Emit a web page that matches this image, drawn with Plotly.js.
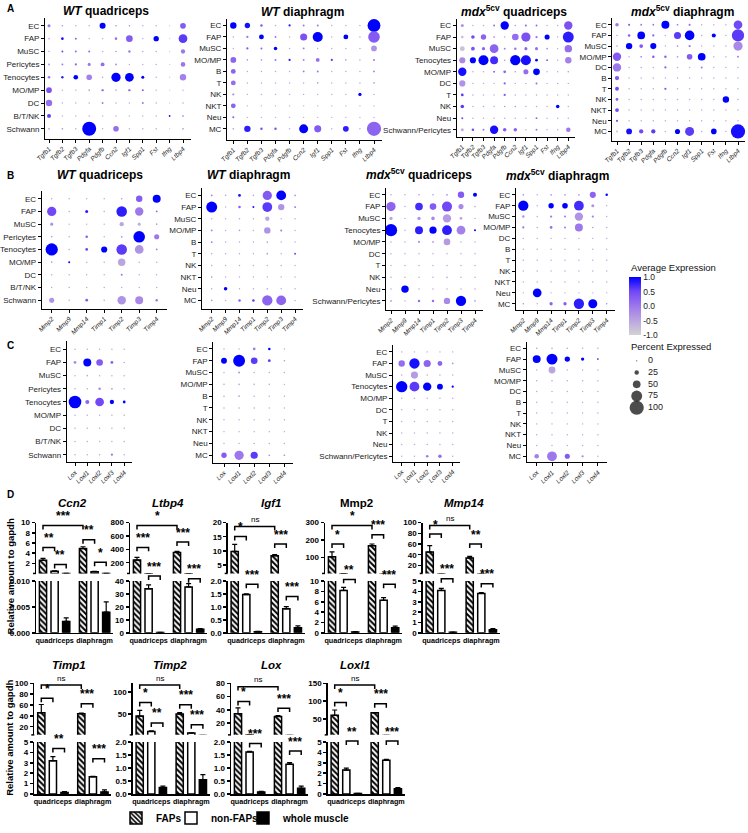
<!DOCTYPE html>
<html><head><meta charset="utf-8">
<script src="https://cdn.plot.ly/plotly-3.0.1.min.js"></script>
<style>html,body{margin:0;padding:0;background:#fff}#chart{width:748px;height:833px}</style>
</head><body><div id="chart"></div>
<script>
const W=748,H=833;
// ---------------- DATA: dot plots ----------------
const genesA=['Tgfb1','Tgfb2','Tgfb3','Pdgfa','Pdgfb','Ccn2','Igf1','Spp1','Fst','Ifng','Ltbp4'];
const genesB=['Mmp2','Mmp9','Mmp14','Timp1','Timp2','Timp3','Timp4'];
const genesC=['Lox','Loxl1','Loxl2','Loxl3','Loxl4'];
const rowsWTq=['EC','FAP','MuSC','Pericytes','Tenocytes','MO/MP','DC','B/T/NK','Schwann'];
const rowsWTd=['EC','FAP','MuSC','MO/MP','B','T','NK','NKT','Neu','MC'];
const rowsMq=['EC','FAP','MuSC','Tenocytes','MO/MP','DC','T','NK','Neu','Schwann/Pericytes'];
const rowsMd=['EC','FAP','MuSC','MO/MP','DC','B','T','NK','NKT','Neu','MC'];

const pctA1=[[14,3,2,2,37,3,2,2,2,1,35],[3,11,6,2,2,11,42,2,32,1,58],[2,6,5,5,2,3,9,2,2,1,24],[4,5,7,14,21,5,2,2,2,1,26],[11,9,26,34,3,62,58,14,3,1,40],[34,2,2,3,9,3,9,6,2,1,2],[40,2,2,2,5,2,2,6,2,1,2],[21,2,2,2,2,2,2,2,2,4,4],[4,4,2,98,2,34,2,2,2,1,4]];
const expA1=[[0,-0.3,-0.5,-0.5,1,-0.2,-0.2,-0.5,-0.5,-1,0.3],[-0.5,0.9,0.3,-0.5,-0.5,0,0.3,-0.5,1,-1,0.6],[-0.5,0.5,0.2,0.2,-0.5,-0.3,0,-0.5,-0.5,-1,0],[-0.2,0,0.2,0,0.1,-0.2,-0.5,-0.5,-0.5,-1,0],[0,0.8,1,-0.1,-0.4,1,1,1,-0.5,-1,-0.1],[0.4,-0.5,-0.5,-0.3,0,-0.5,0,0.3,-0.5,-1,-0.5],[0.1,-0.5,-0.5,-0.5,0,-0.5,-0.5,0,-0.5,-1,-0.5],[0.6,-0.5,-0.5,-0.5,-0.5,-0.5,-0.5,-0.5,-0.5,1,-0.3],[-0.3,-0.3,-0.5,1,-0.5,0.1,-0.5,-0.5,-0.5,-1,-0.3]];
const pctA2=[[40,32,10,2,8,6,6,2,2,2,90],[3,8,28,4,2,45,68,2,28,2,80],[2,8,6,18,2,5,2,2,2,2,35],[35,3,3,5,8,5,20,8,3,2,6],[28,2,2,2,2,5,6,2,2,2,4],[28,2,2,2,2,2,3,2,2,2,3],[6,2,2,2,2,2,2,2,2,16,2],[28,2,2,2,2,2,2,2,2,2,2],[6,2,2,2,2,2,2,2,2,2,2],[3,40,10,10,2,60,45,2,35,2,100]];
const expA2=[[1,0.9,0.3,-0.5,0.8,0,0,-0.5,-0.5,-0.5,1],[-0.5,0,1,0.3,-0.5,0.4,1,-0.5,1,-0.5,0.3],[-0.5,0.3,0.2,1,-0.5,0,-0.5,-0.5,-0.5,-0.5,-0.3],[0.2,-0.3,-0.3,0.2,0.8,0,0.1,0.6,-0.3,-0.5,0],[0.2,-0.5,-0.5,-0.5,-0.5,0,0,-0.5,-0.5,-0.5,0],[0.1,-0.5,-0.5,-0.5,-0.5,-0.5,-0.3,-0.5,-0.5,-0.5,-0.3],[0,-0.5,-0.5,-0.5,-0.5,-0.5,-0.5,-0.5,-0.5,1,-0.5],[0.2,-0.5,-0.5,-0.5,-0.5,-0.5,-0.5,-0.5,-0.5,-0.5,-0.5],[0.3,-0.5,-0.5,-0.5,-0.5,-0.5,-0.5,-0.5,-0.5,-0.5,-0.5],[-0.3,0.8,0.4,0.4,-0.5,1,0.3,-0.5,0.8,-0.5,0.2]];
const pctA3=[[14,2,2,5,55,3,6,5,2,2,55],[12,18,32,3,2,42,62,8,30,2,75],[28,20,16,58,5,10,14,14,3,2,48],[38,38,68,52,3,70,68,12,4,2,40],[55,2,2,6,12,3,30,42,2,2,3],[38,2,2,2,8,2,2,6,2,2,2],[12,2,2,2,8,2,2,2,2,2,2],[18,2,2,2,3,3,2,2,2,18,2],[6,2,2,2,2,2,2,5,2,2,2],[14,10,6,55,18,18,2,6,2,2,25]];
const expA3=[[-0.3,-0.5,-0.5,0.2,1,-0.3,0.2,0.2,-0.5,-0.5,0.4],[-0.8,0.5,0.2,0.2,-0.5,0.1,0.4,0.1,1,-0.5,0.8],[-0.8,0.4,0.2,0.2,0,0,0.2,0.1,0,-0.5,0.1],[-0.2,1,1,0.7,-0.3,1,0.9,1,0.5,-0.5,-0.1],[0.9,-0.5,-0.5,0.2,0.2,-0.3,0.1,1,-0.5,-0.5,-0.3],[-0.3,-0.5,-0.5,-0.5,0.2,-0.5,-0.5,0.1,-0.5,-0.5,-0.5],[0.6,-0.5,-0.5,-0.5,0.3,-0.5,-0.5,-0.5,-0.5,-0.5,-0.5],[0.6,-0.5,-0.5,-0.5,-0.3,-0.3,-0.5,-0.5,-0.5,1,-0.5],[0.5,-0.5,-0.5,-0.5,-0.5,-0.5,-0.5,0.2,-0.5,-0.5,-0.5],[-0.6,0.5,0,0.9,0.3,0.2,-0.5,0,-0.5,-0.5,0]];
const pctA4=[[18,8,5,5,52,4,8,2,2,2,58],[3,10,50,8,2,45,65,2,22,2,85],[3,40,20,38,2,4,8,2,2,2,62],[55,2,4,10,10,4,34,50,2,2,5],[55,2,2,2,8,2,2,6,2,2,2],[24,2,2,2,2,2,2,2,2,2,2],[20,2,2,2,8,2,2,2,2,2,2],[12,2,2,2,2,2,2,2,2,40,2],[20,2,2,2,2,2,2,2,2,2,2],[8,2,2,2,2,2,2,2,2,2,2],[6,35,24,24,2,30,60,2,34,2,100]];
const expA4=[[0,0.2,0,0,1,0,0,-0.5,-0.5,-0.5,0.5],[-0.5,0.3,1,0.2,-0.5,0.6,1,-0.5,1,-0.5,0.6],[-0.5,1,0.3,1,-0.5,-0.3,0,-0.5,-0.5,-0.5,-0.2],[0.3,-0.5,0,0.3,0.2,-0.3,0.3,1,-0.5,-0.5,0],[0,-0.5,-0.5,-0.5,0.2,-0.5,-0.5,0,-0.5,-0.5,-0.5],[0.3,-0.5,-0.5,-0.5,-0.5,-0.5,-0.5,-0.5,-0.5,-0.5,-0.5],[0.5,-0.5,-0.5,-0.5,0.3,-0.5,-0.5,-0.5,-0.5,-0.5,-0.5],[0.3,-0.5,-0.5,-0.5,-0.5,-0.5,-0.5,-0.5,-0.5,1,-0.5],[0.5,-0.5,-0.5,-0.5,-0.5,-0.5,-0.5,-0.5,-0.5,-0.5,-0.5],[0.5,-0.5,-0.5,-0.5,-0.5,-0.5,-0.5,-0.5,-0.5,-0.5,-0.5],[-0.8,0.9,0.5,0.6,-0.5,1,0.6,-0.5,1,-0.5,0.9]];

const pctB1=[[2,2,2,2,3,40,52],[62,2,14,3,72,55,4],[14,2,2,2,24,14,3],[3,2,10,2,5,80,30],[85,2,12,38,72,58,4],[3,6,2,2,48,2,2],[2,2,2,2,6,2,2],[2,2,2,2,2,2,2],[30,2,12,3,56,52,10]];
const expB1=[[-0.5,-0.5,-0.5,-0.5,-0.3,0.3,1],[0.5,-0.5,0.8,-0.5,0.8,0,0.2],[-0.3,-0.5,-0.5,-0.5,-0.5,-0.6,-0.3],[-0.3,-0.5,0.3,-0.5,-0.3,1,0],[1,-0.5,0.5,1,0.6,-0.3,0],[-0.3,1,-0.5,-0.5,-0.5,-0.5,-0.5],[-0.5,-0.5,-0.5,-0.5,0,-0.5,-0.5],[-0.5,-0.5,-0.5,-0.5,-0.5,-0.5,-0.5],[-0.3,-0.5,0.3,-0.5,-0.3,-0.2,0]];
const pctB2=[[4,3,12,3,62,66,4],[75,2,10,6,66,40,4],[3,2,3,2,24,2,2],[4,2,3,2,40,6,2],[5,2,2,2,4,2,2],[3,2,2,2,5,2,6],[2,2,2,2,2,2,2],[3,2,2,2,2,2,2],[2,18,2,2,4,2,2],[3,2,10,10,70,66,2]];
const expB2=[[0,-0.5,0.9,-0.5,0.3,1,-0.3],[1,-0.5,0.3,0.9,0.6,-0.3,0.3],[-0.5,-0.5,-0.5,-0.5,-0.5,-0.5,-0.5],[0,-0.5,-0.3,-0.5,-0.3,0,-0.5],[0,-0.5,-0.5,-0.5,-0.5,-0.5,-0.5],[-0.5,-0.5,-0.5,-0.5,-0.5,-0.5,0.5],[-0.5,-0.5,-0.5,-0.5,-0.5,-0.5,-0.5],[-0.3,-0.5,-0.5,-0.5,-0.5,-0.5,-0.5],[-0.5,1,-0.5,-0.5,-0.5,-0.5,-0.5],[-0.3,-0.5,0.3,0.6,0.2,0.2,-0.5]];
const pctB3=[[3,2,3,3,5,40,22],[62,2,50,42,68,30,3],[16,2,16,18,55,12,2],[85,2,52,46,66,58,6],[2,2,8,4,42,2,2],[2,2,2,2,2,2,2],[2,2,2,2,3,2,2],[2,2,2,2,4,2,2],[2,48,2,2,2,2,2],[4,2,10,10,40,70,3]];
const expB3=[[-0.5,-0.5,-0.3,-0.3,-0.3,0.3,1],[0.2,-0.5,0.7,0.3,0.5,-0.2,-0.5],[-0.5,-0.5,-0.3,-0.2,-0.4,-0.5,-0.5],[1,-0.5,0.8,1,0.8,-0.1,1],[-0.5,-0.5,-0.3,-0.3,-0.4,-0.5,-0.5],[-0.5,-0.5,-0.5,-0.5,-0.5,-0.5,-0.5],[-0.5,-0.5,-0.5,-0.5,-0.5,-0.5,-0.5],[-0.5,-0.5,-0.5,-0.5,-0.5,-0.5,-0.5],[-0.5,1,-0.5,-0.5,-0.5,-0.5,-0.5],[-0.3,-0.5,0.1,0.1,-0.2,1,-0.3]];
const pctB4=[[4,2,4,4,4,38,10],[70,2,32,34,66,14,2],[10,2,8,6,55,8,2],[8,2,12,6,52,3,2],[2,2,2,2,2,2,2],[2,2,2,2,2,2,2],[2,2,2,2,2,2,2],[2,2,2,2,2,2,2],[2,2,2,2,2,2,2],[2,58,2,2,2,2,2],[3,2,16,16,70,60,3]];
const expB4=[[-0.3,-0.5,-0.3,-0.3,-0.3,0.2,1],[1,-0.5,1,1,0.7,-0.3,-0.5],[-0.3,-0.5,0,0,-0.3,-0.1,-0.5],[0,-0.5,0.1,0,0,-0.3,-0.5],[-0.5,-0.5,-0.5,-0.5,-0.5,-0.5,-0.5],[-0.5,-0.5,-0.5,-0.5,-0.5,-0.5,-0.5],[-0.5,-0.5,-0.5,-0.5,-0.5,-0.5,-0.5],[-0.5,-0.5,-0.5,-0.5,-0.5,-0.5,-0.5],[-0.5,-0.5,-0.5,-0.5,-0.5,-0.5,-0.5],[-0.5,1,-0.5,-0.5,-0.5,-0.5,-0.5],[-0.3,-0.5,0.2,0.3,0.8,1,-0.3]];

const pctC1=[[2,2,2,2,2],[12,52,42,12,3],[2,3,2,2,2],[2,2,10,4,2],[88,22,58,24,12],[2,2,2,2,2],[2,2,2,2,2],[2,2,2,2,2],[2,2,2,8,2]];
const expC1=[[-0.5,-0.5,-0.5,-0.5,-0.5],[-0.2,1,0.3,0.3,-0.5],[-0.5,-0.5,-0.5,-0.5,-0.5],[-0.5,-0.5,-0.2,-0.3,-0.5],[1,0.2,0.5,1,1],[-0.5,-0.5,-0.5,-0.5,-0.5],[-0.5,-0.5,-0.5,-0.5,-0.5],[-0.5,-0.5,-0.5,-0.5,-0.5],[-0.5,-0.5,-0.5,0,-0.5]];
const pctC2=[[2,2,12,10,2],[36,82,42,12,3],[2,6,2,2,2],[3,4,3,3,2],[3,4,3,2,2],[2,3,2,2,2],[2,2,2,2,2],[2,2,2,2,2],[2,2,3,2,2],[32,62,46,4,4]];
const expC2=[[-0.5,-0.5,-0.1,1,-0.5],[1,1,0.6,0.6,-0.3],[-0.5,-0.3,-0.5,-0.5,-0.5],[-0.5,-0.5,-0.5,-0.5,-0.5],[-0.5,-0.5,-0.5,-0.5,-0.5],[-0.5,-0.5,-0.5,-0.5,-0.5],[-0.5,-0.5,-0.5,-0.5,-0.5],[-0.5,-0.5,-0.5,-0.5,-0.5],[-0.5,-0.5,-0.5,-0.5,-0.5],[0.3,0,0.6,-0.3,-0.3]];
const pctC3=[[2,2,2,2,2],[40,70,46,28,4],[3,46,2,2,2],[78,66,55,36,8],[2,2,2,2,2],[2,2,2,2,2],[2,2,2,2,2],[2,2,2,2,2],[2,2,2,2,2],[2,2,10,18,2]];
const expC3=[[-0.5,-0.5,-0.5,-0.5,-0.5],[0.1,0.9,0.2,0.2,-0.3],[-0.5,-0.4,-0.5,-0.5,-0.5],[1,0.6,1,1,1],[-0.5,-0.5,-0.5,-0.5,-0.5],[-0.5,-0.5,-0.5,-0.5,-0.5],[-0.5,-0.5,-0.5,-0.5,-0.5],[-0.5,-0.5,-0.5,-0.5,-0.5],[-0.5,-0.5,-0.5,-0.5,-0.5],[-0.5,-0.5,0,0.1,-0.5]];
const pctC4=[[3,3,3,2,2],[52,75,32,16,3],[2,44,2,2,2],[3,3,3,3,2],[2,2,2,2,2],[2,2,2,2,2],[2,2,2,2,2],[2,2,2,2,2],[2,2,2,2,2],[2,2,2,2,2],[26,66,30,8,2]];
const expC4=[[-0.5,-0.5,-0.5,-0.5,-0.5],[1,1,1,1,1],[-0.5,-0.5,-0.5,-0.5,-0.5],[-0.5,-0.5,-0.5,-0.5,-0.5],[-0.5,-0.5,-0.5,-0.5,-0.5],[-0.5,-0.5,-0.5,-0.5,-0.5],[-0.5,-0.5,-0.5,-0.5,-0.5],[-0.5,-0.5,-0.5,-0.5,-0.5],[-0.5,-0.5,-0.5,-0.5,-0.5],[-0.5,-0.5,-0.5,-0.5,-0.5],[-0.1,0,0.3,-0.2,-0.5]];
const legendPct=[0,25,50,75,100];
const exprTicks=[-1,-0.5,0,0.5,1];

// ---------------- DATA: qPCR bars ----------------
const barGenes=['Ccn2','Ltbp4','Igf1','Mmp2','Mmp14','Timp1','Timp2','Lox','Loxl1'];
const barItalic=[true,true,true,false,true,true,true,true,true];
const groups=['quadriceps','diaphragm'];
const seriesNames=['FAPs','non-FAPs','whole muscle'];
const fapMean=[[2.6,4.9],[240,355],[9.8,8.3],[105,168],[45,34],[46,44],[45,50],[34,30],[60,67]];
const fapErr=[[0.35,0.35],[40,15],[2.5,0.4],[28,10],[12,3],[15,1],[13,3],[9,1],[15,1]];
const nonMean=[[0.45,0.35],[34,35.5],[1.48,0.93],[8.2,6.3],[4.1,3.8],[3.2,1.65],[10,6],[1.62,1.15],[2.3,3.25]];
const nonErr=[[0.05,0.05],[3,2.5],[0.03,0.08],[0.6,0.5],[0.2,0.08],[0.4,0.05],[1,0.5],[0.02,0.06],[0.2,0.1]];
const wholeMean=[[0.0022,0.004],[0.3,2.8],[0.04,0.2],[0.15,1.0],[0.05,0.3],[0.15,0.2],[0.25,0.55],[0.08,0.22],[0.05,0.5]];
const wholeErr=[[0.0007,0.002],[0.1,0.5],[0.02,0.07],[0.1,0.3],[0.02,0.12],[0.08,0.2],[0.05,0.2],[0.02,0.08],[0.02,0.12]];
const upperRange=[[0,10],[40,800],[2,20],[10,300],[5,100],[5,100],[2,120],[2,80],[5,150]];
const upperTicks=[[2,4,6,8,10],[200,400,600,800],[5,10,15,20],[100,200,300],[20,40,60,80,100],[20,40,60,80,100],[50,100],[20,40,60,80],[50,100,150]];
const lowerRange=[[0,0.01],[0,40],[0,2],[0,10],[0,5],[0,5],[0,2],[0,2],[0,5]];
const lowerTicks=[[0,0.005,0.01],[0,10,20,30,40],[0,0.5,1,1.5,2],[0,2,4,6,8,10],[0,1,2,3,4,5],[0,1,2,3,4,5],[0,0.5,1,1.5,2],[0,0.5,1,1.5,2],[0,1,2,3,4,5]];
const lowerDec=[3,0,1,0,0,0,1,1,0];
// significance: pairs of bars (0-2 quadriceps FAPs/non/whole, 3-5 diaphragm) and labels
const sigPairs=[[0,3],[0,1],[1,2],[3,4],[4,5]];
const sigLabels=[['***','**','**','**','*'],['*','***','***','***','***'],['ns','*','***','***','***'],['*','*','**','***','***'],['ns','*','***','**','***'],['ns','*','**','***','***'],['ns','*','**','***','***'],['ns','*','***','***','***'],['ns','*','**','***','***']];

// ---------------- LAYOUT GEOMETRY (px) ----------------
const dotGeo=[
 {g:genesA,r:rowsWTq,p:pctA1,e:expA1,axL:45,c0:49,cs:13.4,axB:140,r0:26,rs:13.0},
 {g:genesA,r:rowsWTd,p:pctA2,e:expA2,axL:227,c0:233.3,cs:14.07,axB:141,r0:25.7,rs:11.6},
 {g:genesA,r:rowsMq,p:pctA3,e:expA3,axL:456.7,c0:462.3,cs:10.6,axB:138,r0:25.7,rs:11.7},
 {g:genesA,r:rowsMd,p:pctA4,e:expA4,axL:612.3,c0:617,cs:12.1,axB:142,r0:25,rs:10.77},
 {g:genesB,r:rowsWTq,p:pctB1,e:expB1,axL:41.7,c0:51.7,cs:17.5,axB:311.7,r0:200.7,rs:12.8},
 {g:genesB,r:rowsWTd,p:pctB2,e:expB2,axL:202,c0:211.7,cs:13.9,axB:311.7,r0:197.3,rs:11.78},
 {g:genesB,r:rowsMq,p:pctB3,e:expB3,axL:386,c0:391,cs:14,axB:313,r0:196.7,rs:11.9},
 {g:genesB,r:rowsMd,p:pctB4,e:expB4,axL:516,c0:523.3,cs:13.9,axB:313,r0:196.7,rs:11.0},
 {g:genesC,r:rowsWTq,p:pctC1,e:expC1,axL:66.7,c0:75,cs:12.3,axB:466.7,r0:352.7,rs:13.3},
 {g:genesC,r:rowsWTd,p:pctC2,e:expC2,axL:213.3,c0:224,cs:15.1,axB:467,r0:352.3,rs:11.93},
 {g:genesC,r:rowsMq,p:pctC3,e:expC3,axL:393,c0:401.7,cs:12.75,axB:466,r0:355.3,rs:11.7},
 {g:genesC,r:rowsMd,p:pctC4,e:expC4,axL:526.7,c0:536.7,cs:15.3,axB:466.7,r0:351.7,rs:10.9}
];
const CS=[[0,'#d3d3d3'],[0.25,'#bba5e0'],[0.5,'#9d77ec'],[0.75,'#7248f6'],[1,'#0000ff']];
const sizeOf=p=>1.2+0.13*p;

const FONT='Liberation Sans, Arial, sans-serif';
const layout={width:W,height:H,margin:{l:0,r:0,t:0,b:0},paper_bgcolor:'#fff',plot_bgcolor:'rgba(0,0,0,0)',
  font:{family:FONT,color:'#000',size:9},showlegend:true,barmode:'group',bargap:0.13,bargroupgap:0.38,
  annotations:[],shapes:[]};
const legendX=[116,171,243];
['legend','legend2','legend3'].forEach((k,i)=>{layout[k]={orientation:'h',x:legendX[i]/W,y:1-826/H,xanchor:'left',yanchor:'middle',
  font:{size:10,weight:'bold',family:FONT,color:'#000'},bgcolor:'rgba(0,0,0,0)',itemwidth:30,borderwidth:0};});
const traces=[];
let nx=0,ny=0;
const xid=i=>i===1?'x':'x'+i, yid=i=>i===1?'y':'y'+i;
const xk=i=>i===1?'xaxis':'xaxis'+i, yk=i=>i===1?'yaxis':'yaxis'+i;
const PX=x=>x/W, PY=y=>1-y/H;
function ann(text,x,y,o){layout.annotations.push(Object.assign({text:text,x:PX(x),y:PY(y),xref:'paper',yref:'paper',showarrow:false,font:{size:9,family:FONT,color:'#000'}},o||{}));}

// ---------------- DOT PLOTS ----------------
dotGeo.forEach((d,k)=>{
  const xa=++nx, ya=++ny;
  const nC=d.g.length;
  const x1=d.c0+(nC-1+0.6)*d.cs, yTop=d.r0-0.6*d.rs;
  const common={showline:true,linecolor:'#000',linewidth:1,ticks:'outside',ticklen:3,tickcolor:'#000',tickwidth:1,showgrid:false,zeroline:false,fixedrange:true};
  layout[xk(xa)]=Object.assign({},common,{domain:[PX(d.axL),PX(x1)],range:[-(d.c0-d.axL)/d.cs,nC-1+0.6],anchor:yid(ya),
    tickvals:d.g.map((g,i)=>i),ticktext:d.g,tickangle:-45,tickfont:{size:6.5,style:'italic',color:'#222',family:FONT}});
  layout[yk(ya)]=Object.assign({},common,{domain:[PY(d.axB),PY(yTop)],range:[(d.axB-d.r0)/d.rs,-0.6],anchor:xid(xa),
    tickvals:d.r.map((r,i)=>i),ticktext:d.r,tickfont:{size:8,color:'#222',family:FONT}});
  const xs=[],ys=[],sz=[],cl=[];
  d.r.forEach((r,i)=>d.g.forEach((g,j)=>{xs.push(j);ys.push(i);sz.push(sizeOf(d.p[i][j]));cl.push(d.e[i][j]);}));
  const tr={type:'scatter',mode:'markers',x:xs,y:ys,xaxis:xid(xa),yaxis:yid(ya),showlegend:false,hoverinfo:'skip',cliponaxis:false,
    marker:{size:sz,color:cl,cmin:-1,cmax:1,colorscale:CS,line:{width:0},opacity:1,showscale:k===0}};
  if(k===0){tr.marker.colorbar={x:PX(629),xanchor:'left',y:PY(280),yanchor:'top',len:58,lenmode:'pixels',thickness:12,thicknessmode:'pixels',
    outlinewidth:0,xpad:0,ypad:0,tickvals:exprTicks,ticktext:exprTicks.map(v=>v.toFixed(1)),ticks:'',ticklabelpad:4,tickfont:{size:8.5,color:'#222',family:FONT}};}
  traces.push(tr);
});
// size legend
(function(){
  const xa=++nx, ya=++ny;
  layout[xk(xa)]={domain:[PX(629),PX(700)],range:[0,71],visible:false,fixedrange:true,anchor:yid(ya)};
  layout[yk(ya)]={domain:[PY(418),PY(357)],range:[4.53,-0.62],visible:false,fixedrange:true,anchor:xid(xa)};
  traces.push({type:'scatter',mode:'markers',x:legendPct.map(()=>7.7),y:legendPct.map((v,i)=>i),xaxis:xid(xa),yaxis:yid(ya),showlegend:false,hoverinfo:'skip',cliponaxis:false,
    marker:{size:legendPct.map(sizeOf),color:'#000',line:{width:0}}});
  traces.push({type:'scatter',mode:'text',x:legendPct.map(()=>19),y:legendPct.map((v,i)=>i),text:legendPct.map(String),textposition:'middle right',
    textfont:{size:9,color:'#222',family:FONT},xaxis:xid(xa),yaxis:yid(ya),showlegend:false,hoverinfo:'skip',cliponaxis:false});
})();
ann('Average Expression',629,270,{xanchor:'left',yanchor:'middle',font:{size:9.5,family:FONT,color:'#111'}});
ann('Percent Expressed',629,350,{xanchor:'left',yanchor:'middle',font:{size:9.5,family:FONT,color:'#111'}});

// panel titles
const tfont={size:12,weight:'bold',family:FONT,color:'#000'};
[['<i>WT</i> quadriceps',106,11],['<i>WT</i> diaphragm',302,12],['<i>mdx</i><sup>5cv</sup> quadriceps',514,11],['<i>mdx</i><sup>5cv</sup> diaphragm',682,11],
 ['<i>WT</i> quadriceps',100,177],['<i>WT</i> diaphragm',248,177],['<i>mdx</i><sup>5cv</sup> quadriceps',419,176],['<i>mdx</i><sup>5cv</sup> diaphragm',557,177]]
 .forEach(t=>ann(t[0],t[1],t[2],{xanchor:'center',yanchor:'middle',font:tfont}));
[['A',5,9],['B',5,177],['C',5,349],['D',5,499]].forEach(t=>ann(t[0],t[1],t[2],{xanchor:'left',yanchor:'middle',font:{size:10,weight:'bold',family:FONT}}));

// ---------------- BAR CHARTS ----------------
const rowGeo=[{uT:527.7,uB:579,lT:586.7,lB:639,title:508},{uT:690,uB:742,lT:749.3,lB:801.7,title:671.5}];
const chartAxL=[36,130,227.7,325,422.7,34.3,132.7,231,327.7];
const chartTitleX=[72,168,271,356,464,69,170,271,355];
const chartRow=[0,0,0,0,0,1,1,1,1];
const sigY=[[530.7,552.7,570,545,567.7],[530.7,552.7,581.7,547.3,584.3],[531.7,541.7,590,549.3,602.3],[530.7,549.3,585,540,590],[530.7,539.3,584.3,549.3,589.3],
            [691.7,705,755.7,710.7,766],[691.7,709.3,730,711.7,731.7],[693.3,708.3,750.7,715,758.3],[691.7,709.3,748.3,710.7,748.3]];
const XR=[-0.465,1.46], CW=77;
const slot=(1-layout.bargap)/3;
const barX=b=>Math.floor(b/3)+(b%3-1)*slot;
const seriesStyle=[
  {color:'#fff',pattern:{shape:'\\',fgcolor:'#000',bgcolor:'#fff',size:4,solidity:0.5},line:{color:'#000',width:1.5}},
  {color:'#fff',line:{color:'#000',width:1.5}},
  {color:'#000',line:{color:'#000',width:1.5}}];
const legendIds=['legend','legend2','legend3'];
const yCommon={showline:true,linecolor:'#000',linewidth:1.5,ticks:'outside',ticklen:3,tickwidth:1.5,tickcolor:'#000',showgrid:false,zeroline:false,fixedrange:true,
  tickfont:{size:8,weight:'bold',family:FONT,color:'#000'}};
barGenes.forEach((gene,c)=>{
  const rg=rowGeo[chartRow[c]], axL=chartAxL[c];
  const xa=++nx, yu=++ny, yl=++ny;
  layout[xk(xa)]={domain:[PX(axL),PX(axL+CW)],range:XR,anchor:yid(yl),showline:true,linecolor:'#000',linewidth:1.5,ticks:'',tickangle:0,
    tickvals:[0,1],ticktext:groups,showgrid:false,zeroline:false,fixedrange:true,tickfont:{size:7.2,weight:'bold',family:FONT,color:'#000'}};
  layout[yk(yu)]=Object.assign({},yCommon,{domain:[PY(rg.uB),PY(rg.uT)],range:upperRange[c],anchor:xid(xa),tickvals:upperTicks[c],ticktext:upperTicks[c].map(String)});
  layout[yk(yl)]=Object.assign({},yCommon,{domain:[PY(rg.lB),PY(rg.lT)],range:lowerRange[c],anchor:xid(xa),tickvals:lowerTicks[c],ticktext:lowerTicks[c].map(v=>v.toFixed(lowerDec[c]))});
  layout.shapes.push({type:'line',xref:'paper',yref:'paper',x0:PX(axL-3),x1:PX(axL),y0:PY(rg.uB),y1:PY(rg.uB),line:{color:'#000',width:1.5}});
  const means=[fapMean[c],nonMean[c],wholeMean[c]], errs=[fapErr[c],nonErr[c],wholeErr[c]];
  [yu,yl].forEach((ya,seg)=>{
    means.forEach((m,s)=>{
      traces.push({type:'bar',name:seriesNames[s],x:[0,1],y:m,xaxis:xid(xa),yaxis:yid(ya),marker:seriesStyle[s],
        showlegend:(c===0&&seg===0),legend:legendIds[s],hoverinfo:'skip',
        error_y:{type:'data',symmetric:false,array:errs[s],arrayminus:[0,0],color:'#000',thickness:1.2,width:2.5}});
    });
  });
  ann(gene,chartTitleX[c],rg.title,{xanchor:'center',yanchor:'middle',font:{size:11.5,weight:'bold',style:barItalic[c]?'italic':'normal',family:FONT}});
  sigPairs.forEach((pr,k)=>{
    const y=sigY[c][k], xr=xid(xa);
    const x0=barX(pr[0]), x1=barX(pr[1]);
    layout.shapes.push({type:'path',xref:xr,yref:'paper',path:'M'+x0+','+PY(y+4)+' L'+x0+','+PY(y)+' L'+x1+','+PY(y)+' L'+x1+','+PY(y+4),line:{color:'#000',width:1.5}});
    const lab=sigLabels[c][k];
    layout.annotations.push({text:lab,x:(x0+x1)/2,y:PY(y-0.5),xref:xr,yref:'paper',showarrow:false,xanchor:'center',yanchor:'bottom',
      font:lab==='ns'?{size:8,family:FONT,color:'#000'}:{size:12,weight:'bold',family:FONT,color:'#000'}});
  });
});
ann('Relative amount to gapdh',10,582,{textangle:-90,xanchor:'center',yanchor:'middle',font:{size:9.5,weight:'bold',family:FONT}});
ann('Relative amount to gapdh',10,745,{textangle:-90,xanchor:'center',yanchor:'middle',font:{size:9.5,weight:'bold',family:FONT}});

Plotly.newPlot('chart',traces,layout,{staticPlot:true,displayModeBar:false});
</script></body></html>
